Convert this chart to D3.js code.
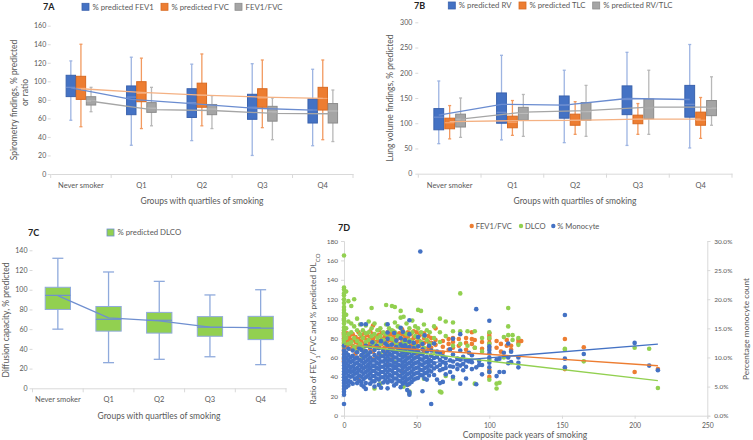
<!DOCTYPE html>
<html><head><meta charset="utf-8">
<script src="https://cdn.jsdelivr.net/npm/d3@7"></script>
<style>
body{margin:0;background:#fff;}
svg{display:block;font-family:Lato,"Open Sans",sans-serif;}
</style></head><body>
<svg id="c" width="753" height="440"></svg>
<script>
// ---------- DATA ----------
const groups = ["Never smoker","Q1","Q2","Q3","Q4"];
// each row: [min, q1, median, q3, max, mean]
const fev1Pred = [[58,83.5,93.5,106.5,122,93],[31,64,83,95,126,80.5],[36,61,77,92,118.5,76],[20,59,72,86,119,71],[30.5,55,69,81,113,69]];
const fvcPred  = [[51,80.5,92.4,105.4,140,92],[49,78,87,99.6,125,88],[52,72,85,98,129.5,85],[50,72,82,92,123,83],[37,69,81.5,93.5,123,81.5]];
const fevFvcRatio = [[67.2,74.4,78.8,83.4,93.5,78.5],[52,66.5,71,77,93.5,69.5],[49,64,70,75,84.5,68.5],[37,57,67,73,82,65.5],[35,55,68,76,90.6,65]];
const rvPred   = [[59.5,87,112,129,183.7,116],[67,100,121.6,160,234.6,137.5],[61.5,110,136,154,205,136],[56,117,147,174,240.5,149],[51,112,137.5,175,256,147]];
const tlcPred  = [[69,89,101,110,135,103],[76,91,102,114,145,105],[78,96,106,118,142.7,105.7],[78,99,108,116,139,108],[70,96,106,122,151,108]];
const rvTlc    = [[72,92.5,108,118,150,108],[74,106,119.6,131.5,157,122],[74,106,123,141,175,125],[78,109,131,148,205,132],[96,115,130,145,192,132]];
const dlcoPred = [[60,80,94.3,102.5,131.9,94],[26,58,70,83,118,71.5],[29.4,56,69,77,108.5,68.3],[32,52.8,62,72.7,94.7,62],[24,49.4,61,73,100,61.5]];

const ticksA = [0,20,40,60,80,100,120,140,160];
const ticksB = [0,50,100,150,200,250,300];
const ticksC = [0,20,40,60,80,100,120,140];
const ticksDLeft = [0,20,40,60,80,100,120,140,160,180];
const ticksDRight = [0,5,10,15,20,25,30];
const ticksDX = [0,50,100,150,200,250];

// 7D scatter: [pack years, [values...]]
const ratioCols = [
 [0,[86,84,82,80,78,76,74,72,70,68,66,63,59,56]],[2,[85,80,76,71]],[4,[83,79,74,69]],[6,[84,78,72]],
 [8,[81,76,70,64]],[10,[86,79,73,37]],[12,[82,77,70,62]],[14,[85,80,74,67]],[16,[83,78,72]],
 [18,[87,81,75,69]],[20,[93,84,79,73,66,58]],[22,[82,76,70]],[24,[88,83,77,71,63]],[26,[85,79,74]],
 [28,[81,76,70,65]],[30,[86,82,77,72,66,52]],[32,[84,78,73]],[34,[87,81,75,69,60]],[36,[83,78,72]],
 [38,[85,80,74,68]],[40,[89,84,79,75,70,64,45]],[42,[82,77,71]],[44,[86,81,76,70,60,32]],
 [46,[84,78,72]],[48,[87,80,74,67]],[50,[86,81,76,71,64]],[52,[83,77,72]],[55,[85,80,75,66]],
 [58,[82,76,70]],[60,[80,75,70,62]],[63,[90,78,73]],[68,[77,71,65]],
 [72,[79,74,68]],[75,[80,76,70]],[79,[79,72]],[84,[80,75,68]],[88,[86,79,74]],[90,[78,70]],
 [95,[76,69]],[100,[85,82,79,75,70,47,40]],[105,[77,70]],[108,[74,66]],[112,[78,72]],
 [115,[72,68]],[120,[78,75]],[122,[77]],[152,[79,48]],[165,[70.6]],[200,[45]],[216,[48]]
];
const dlcoCols = [
 [0,[165,132,130,126,124,120,116,112,109,106,103,100,98,95,91,88,85,82,78,75,72]],[1.5,[128,104,90,80]],
 [3,[118,97,84,74]],[5,[113,95,86,76]],[7,[120,92,80,70]],[9,[100,88,77,66]],[11,[94,84,74]],
 [13,[88,80,70,60]],[15,[93,85,76,66]],[17,[97,86,78]],[19,[111,90,82,72]],[21,[95,84,75,28]],
 [23,[88,80,70]],[25,[90,82,74,64,33]],[27,[86,78,68]],[29,[114,94,84,74,58]],[31,[90,80,72]],
 [33,[113,88,79,68]],[35,[112,96,86,76,55]],[37,[92,82,73]],[39,[108,101,90,80,70]],
 [41,[102,86,76,64,30]],[43,[95,84,74]],[45,[90,84,78,68,25,23]],[47,[98,86,76]],[49,[92,82,72]],
 [51,[109,90,80,66]],[53,[108,86,76]],[55,[94,82,70,38]],[57,[88,78]],[59,[86,74]],
 [62,[92,80,66]],[66,[100,86,76,25]],[67,[24]],[70,[97,82,41]],
 [75,[96,87,72,38]],[80,[126,87,74]],[85,[87,72]],[90,[87,70,33]],[95,[80,66]],
 [100,[86,80,74,58,45,37]],[105,[28,33]],[107,[34]],[110,[81,60]],[113,[111,92,83]],
 [116,[83,78]],[120,[80,73]],[152,[69,68]],[165,[56]],[200,[70]],[210,[69]],[216,[28.5]]
];
const monoCols = [
 [0,[12.0,11.2,10.6,10.1,9.6,9.1,8.6,8.1,7.6,7.1,6.6,6.1,5.6,5.1,4.6,4.1,3.6,2.0]],
 [1.5,[10.8,9.9,9.0,8.2,7.4,6.5,5.7,4.9]],[3,[11.5,10.4,9.5,8.6,7.7,6.9,6.0,5.2]],
 [4.5,[10.0,9.2,8.3,7.5,6.7,5.8]],[6,[11.2,10.3,9.4,8.5,7.6,6.8,5.5]],[7.5,[9.8,8.9,8.0,7.2,6.3]],
 [9,[10.9,10.0,9.1,8.2,7.4,6.5,5.6]],[10.5,[11.6,9.6,8.7,7.8,6.9,6.0]],
 [12,[15.7,11.3,10.4,9.4,8.5,7.6,6.7,5.8,5.3]],[13.5,[10.8,9.9,9.0,8.1,7.2,6.3,5.0]],
 [15,[15.7,12.0,11.1,10.2,9.3,8.4,7.5,6.6,5.6,4.6]],[16.5,[10.5,9.6,8.7,7.8,6.9]],
 [18,[11.8,10.9,10.0,9.1,8.2,7.3,6.4,5.5]],[19.5,[12.6,9.5,8.6,7.7,6.8,5.9]],
 [21,[11.3,10.4,9.5,8.6,7.7,6.8,5.9,5.0]],[22.5,[12.0,10.0,9.1,8.2,7.3,6.4]],
 [24,[11.6,10.7,9.8,8.9,8.0,7.1,6.2,5.3]],[25.5,[12.8,10.2,9.3,8.4,7.5,6.6,4.8]],
 [27,[11.1,10.2,9.3,8.4,7.5,6.6,5.7]],[28.5,[12.4,10.6,9.7,8.8,7.9,7.0,6.1]],
 [30,[15.7,14.3,13.2,12.0,11.1,10.2,9.3,8.4,7.5,6.6,5.7,4.7]],[31.5,[11.5,10.6,9.7,8.8,7.9,7.0,6.1]],
 [33,[12.2,11.3,10.4,9.5,8.6,7.7,6.8,5.9]],[34.5,[14.2,10.9,10.0,9.1,8.2,7.3,6.4,5.2]],
 [36,[12.9,11.8,10.9,10.0,9.1,8.2,7.3,6.4,5.5]],[37.5,[11.4,10.5,9.6,8.7,7.8,6.9,6.0]],
 [39,[15.1,13.3,12.2,11.3,10.4,9.5,8.6,7.7,6.8,5.9,4.9]],[40.5,[14.4,11.8,10.9,10.0,9.1,8.2,7.3,6.4,5.5]],
 [42,[13.0,12.1,11.2,10.3,9.4,8.5,7.6,6.7,5.8]],[43.5,[11.6,10.7,9.8,8.9,8.0,7.1,6.2,5.3,4.4]],
 [45,[16.4,14.0,12.7,11.8,10.9,10.0,9.1,8.2,7.3,6.4,5.5,4.0,3.6]],[46.5,[11.2,10.3,9.4,8.5,7.6,6.7,5.8]],
 [48,[12.5,11.6,10.7,9.8,8.9,8.0,7.1,6.2]],[49.5,[10.9,10.0,9.1,8.2,7.3,6.4]],
 [51,[13.5,11.9,11.0,10.1,9.2,8.3,7.4,6.5]],[52.5,[28.2,10.6,9.7,8.8,7.9,7.0]],
 [54,[12.3,11.4,10.5,9.6,8.7,7.8,6.9,4.2]],[55.5,[13.8,10.0,9.1,8.2,7.3,6.4]],
 [57,[11.0,10.1,9.2,8.3,7.4,6.2]],[58.5,[12.0,9.6,8.7,7.8,6.9]],[60,[11.2,10.3,9.4,8.5,7.6,2.0]],
 [62,[12.4,9.9,9.0,8.1,7.0]],[64,[11.0,10.1,8.4,6.2]],[66,[10.8,9.6,8.7,7.8,5.6]],
 [68,[10.2,9.2,8.0,5.8]],[70,[9.9,8.9,8.2,7.1]],[73,[11.4,9.5,8.5,7.5]],[75,[13.2,10.5,9.3,8.4,6.7]],
 [78,[9.8,8.8,8.0]],[80,[14.0,11.2,9.6,8.6,5.5]],[82,[10.1,8.9,7.8]],[84,[9.5,8.4,6.4]],
 [86,[10.8,9.3]],[88,[10.4,9.2,8.0]],[91,[18.3,8.3,5.4]],[93,[9.4,8.7]],[95,[8.7,7.1]],
 [100,[16.3,11.9,11.3,10.7,10.0,9.1,8.3,7.5]],[105,[9.6,6.8]],[107,[9.8,7.5]],[110,[10.8,7.5]],
 [113,[12.4,10.0,9.0]],[115,[11.0,9.2]],[120,[10.0,9.1,8.3]],
 [152,[17.3,9.8,8.3]],[165,[10.6]],[200,[12.5]],[210,[8.6]],[216,[7.8]]
];
const ratioTrend = [[0,73.2],[216,51.5]];
const dlcoTrend  = [[0,73.8],[216,36.1]];
const monoTrend  = [[0,7.9],[216,12.3]];

// ---------- DRAW ----------
const svg = d3.select("#c");
const TXT = "#595959", AX = "#D9D9D9", FONT = "Lato, 'Open Sans', sans-serif";
const C = {blue:"#4472C4", orange:"#ED7D31", gray:"#A5A5A5", green:"#92D050"};

function styleAxis(a, fs){
  a.selectAll("line").attr("stroke", AX);
  a.selectAll("text").attr("fill", TXT).attr("font-size", fs).attr("font-family", FONT);
}

function boxPanel(p){
  const g = svg.append("g");
  const x = d3.scaleBand().domain(groups).range(p.xr);
  const y = d3.scaleLinear().domain(p.yd).range(p.yr);
  g.append("g").attr("transform",`translate(${p.xr[0]},0)`)
    .call(d3.axisLeft(y).tickValues(p.ticks).tickSize(3).tickPadding(p.tpad))
    .call(a=>a.select(".domain").remove()).call(a=>styleAxis(a,7));
  g.append("g").attr("transform",`translate(0,${p.yr[0]})`)
    .call(d3.axisBottom(x).tickSize(0).tickPadding(p.xpad))
    .call(a=>a.select(".domain").attr("stroke",AX))
    .call(a=>styleAxis(a,7.5));
  g.selectAll(".bt").data(d3.range(groups.length+1)).join("line")
    .attr("x1",i=>p.xr[0]+i*x.step()).attr("x2",i=>p.xr[0]+i*x.step())
    .attr("y1",p.yr[0]).attr("y2",p.yr[0]+4).attr("stroke",AX);
  const cx = (i,s)=> x(groups[i]) + x.bandwidth()/2 + s.off;
  const drawLines = () => p.series.forEach(s=>{
    g.append("path").datum(s.data)
      .attr("d", d3.line().x((d,i)=>cx(i,s)).y(d=>y(d[5])))
      .attr("fill","none").attr("stroke",s.mean).attr("stroke-width",1.3);
  });
  if(!p.linesOnTop) drawLines();
  p.series.forEach(s=>{
    const b = g.append("g").selectAll("g").data(s.data).join("g")
      .attr("transform",(d,i)=>`translate(${cx(i,s)},0)`);
    b.append("line").attr("y1",d=>y(d[0])).attr("y2",d=>y(d[4])).attr("stroke",s.whisk).attr("stroke-width",1.3);
    b.append("line").attr("x1",-p.cap/2).attr("x2",p.cap/2).attr("y1",d=>y(d[4])).attr("y2",d=>y(d[4])).attr("stroke",s.whisk).attr("stroke-width",1.3);
    b.append("line").attr("x1",-p.cap/2).attr("x2",p.cap/2).attr("y1",d=>y(d[0])).attr("y2",d=>y(d[0])).attr("stroke",s.whisk).attr("stroke-width",1.3);
    b.append("rect").attr("x",-p.bw/2).attr("width",p.bw)
      .attr("y",d=>y(d[3])).attr("height",d=>y(d[1])-y(d[3]))
      .attr("fill",s.fill).attr("stroke",s.stroke).attr("stroke-width",1);
    b.append("line").attr("x1",-p.bw/2).attr("x2",p.bw/2).attr("y1",d=>y(d[2])).attr("y2",d=>y(d[2]))
      .attr("stroke",s.med).attr("stroke-width",1.2);
  });
  if(p.linesOnTop) drawLines();
  return {x,y};
}

function txt(x,y,s,o={}){
  const t = svg.append("text").attr("x",x).attr("y",y).text(s)
    .attr("font-size",o.fs||8).attr("fill",o.fill||TXT).attr("font-family",FONT)
    .attr("text-anchor",o.anchor||"start");
  if(o.bold) t.attr("font-weight","bold");
  return t;
}
function vtxt(cx,cy,s,o={}){
  const t = svg.append("text").attr("transform",`translate(${cx},${cy}) rotate(${o.rot||-90})`)
    .attr("text-anchor","middle").attr("dy","0.35em").attr("font-size",o.fs||8.5)
    .attr("fill",TXT).attr("font-family",FONT);
  if(typeof s === "string") t.text(s); else s(t);
  return t;
}
function legendSq(x,y,color,stroke,label){
  svg.append("rect").attr("x",x).attr("y",y).attr("width",7).attr("height",7).attr("fill",color).attr("stroke",stroke).attr("stroke-width",0.8);
  txt(x+10.5,y+6.3,label,{fs:7.8});
}

// 7A
boxPanel({xr:[50.7,353], yr:[174,25.7], yd:[0,160], ticks:ticksA, tpad:1.5, xpad:8.5, bw:9.4, cap:3,
  series:[
   {data:fev1Pred, off:-10.1, fill:C.blue, stroke:"#3A62AD", whisk:"#9DB4E2", med:"#6F8FD0", mean:"#6A8CD0"},
   {data:fvcPred, off:0, fill:C.orange, stroke:"#D86A22", whisk:"#F29A60", med:"#F6A46E", mean:"#F4B183"},
   {data:fevFvcRatio, off:10.1, fill:C.gray, stroke:"#8C8C8C", whisk:"#B8B8B8", med:"#BDBDBD", mean:"#A5A5A5"}
  ], linesOnTop:true});
txt(43,10,"7A",{fs:9,bold:true,fill:"#222"});
legendSq(82,3.3,C.blue,"#3A62AD","% predicted FEV1");
legendSq(161,3.3,C.orange,"#D86A22","% predicted FVC");
legendSq(235,3.3,C.gray,"#8C8C8C","FEV1/FVC");
vtxt(14,100,"Spirometry findings, % predicted");
vtxt(25.5,92.5,"or ratio");
txt(202,204,"Groups with quartiles of smoking",{fs:8.5,anchor:"middle"});

// 7B
boxPanel({xr:[418.3,732], yr:[173.7,22.3], yd:[0,300], ticks:ticksB, tpad:3, xpad:8.5, bw:9.8, cap:3,
  series:[
   {data:rvPred, off:-10.9, fill:C.blue, stroke:"#3A62AD", whisk:"#9DB4E2", med:"#6F8FD0", mean:"#6A8CD0"},
   {data:tlcPred, off:0, fill:C.orange, stroke:"#D86A22", whisk:"#F29A60", med:"#F6A46E", mean:"#F4B183"},
   {data:rvTlc, off:10.9, fill:C.gray, stroke:"#8C8C8C", whisk:"#B8B8B8", med:"#BDBDBD", mean:"#A5A5A5"}
  ], linesOnTop:true});
txt(414,8.5,"7B",{fs:9,bold:true,fill:"#222"});
legendSq(448.3,2,C.blue,"#3A62AD","% predicted RV");
legendSq(519,2,C.orange,"#D86A22","% predicted TLC");
legendSq(592.7,2,C.gray,"#8C8C8C","% predicted RV/TLC");
vtxt(390,98,"Lung volume findings, % predicted");
txt(575,204,"Groups with quartiles of smoking",{fs:8.5,anchor:"middle"});

// 7C
boxPanel({xr:[32.5,286], yr:[388.3,250.3], yd:[0,140], ticks:ticksC, tpad:2, xpad:8.5, bw:25.3, cap:11,
  series:[
   {data:dlcoPred, off:0, fill:C.green, stroke:"#8FAADC", whisk:"#8FAADC", med:"#6F8FD0", mean:"#6F8FD0"}
  ], linesOnTop:true});
txt(28,235.5,"7C",{fs:9,bold:true,fill:"#222"});
legendSq(107,229,C.green,"#6F8FD0","% predicted DLCO");
vtxt(6,320,"Diffusion capacity, % predicted");
txt(159,419,"Groups with quartiles of smoking",{fs:8.5,anchor:"middle"});

// 7D
{
  const g = svg.append("g");
  const x = d3.scaleLinear().domain([0,250]).range([344,707.3]);
  const yL = d3.scaleLinear().domain([0,180]).range([415.7,241]);
  const yR = d3.scaleLinear().domain([0,30]).range([415.7,241]);
  g.append("g").attr("transform","translate(344,0)")
    .call(d3.axisLeft(yL).tickValues(ticksDLeft).tickSize(3).tickPadding(3))
    .call(a=>a.select(".domain").attr("stroke",AX)).call(a=>styleAxis(a,6.5));
  g.append("g").attr("transform","translate(707.3,0)")
    .call(d3.axisRight(yR).tickValues(ticksDRight).tickSize(3).tickPadding(4).tickFormat(d=>d.toFixed(1)+"%"))
    .call(a=>a.select(".domain").attr("stroke",AX)).call(a=>styleAxis(a,6.5));
  g.append("g").attr("transform","translate(0,415.7)")
    .call(d3.axisBottom(x).tickValues(ticksDX).tickSize(3).tickPadding(4))
    .call(a=>a.select(".domain").attr("stroke",AX)).call(a=>styleAxis(a,6.8));
  const flat = cols => cols.flatMap(([px,vals])=>vals.map(v=>[px,v]));
  const dots = (cols, ys, color) => g.append("g").selectAll("circle").data(flat(cols)).join("circle")
    .attr("cx",d=>x(d[0])).attr("cy",d=>ys(d[1])).attr("r",2.3).attr("fill",color);
  dots(ratioCols, yL, C.orange);
  dots(dlcoCols, yL, C.green);
  dots(monoCols, yR, C.blue);
  const tl = (data, ys, color) => g.append("path").datum(data)
    .attr("d", d3.line().x(d=>x(d[0])).y(d=>ys(d[1]))).attr("fill","none").attr("stroke",color).attr("stroke-width",1.4);
  tl(ratioTrend, yL, C.orange);
  tl(dlcoTrend, yL, C.green);
  tl(monoTrend, yR, C.blue);
  txt(338,231,"7D",{fs:9,bold:true,fill:"#222"});
  const leg = [["FEV1/FVC",C.orange,471.7],["DLCO",C.green,521],["% Monocyte",C.blue,553.3]];
  leg.forEach(([l,c,lx])=>{
    svg.append("circle").attr("cx",lx).attr("cy",226).attr("r",2.2).attr("fill",c);
    txt(lx+4,228.7,l,{fs:7.6});
  });
  vtxt(313,329,t=>{
    t.append("tspan").text("Ratio of FEV");
    t.append("tspan").text("1").attr("baseline-shift","sub").attr("font-size",6);
    t.append("tspan").text("/FVC and % predicted DL");
    t.append("tspan").text("CO").attr("baseline-shift","sub").attr("font-size",6);
  },{fs:8.3});
  vtxt(746.5,329,"Percentage monocyte count",{fs:8.3});
  txt(525,438,"Composite pack years of smoking",{fs:8.5,anchor:"middle"});
}
</script>
</body></html>
